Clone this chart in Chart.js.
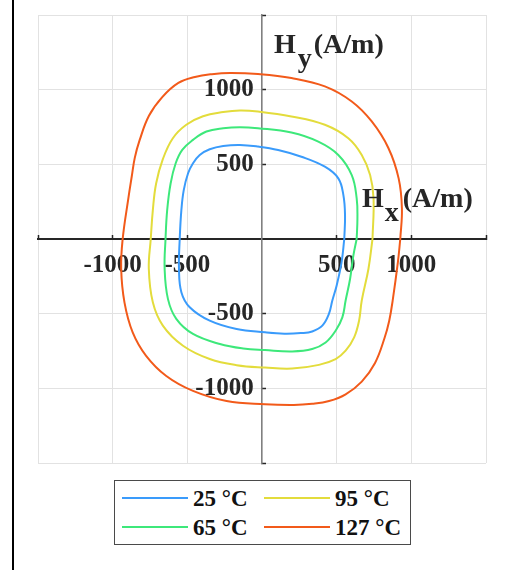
<!DOCTYPE html>
<html><head><meta charset="utf-8">
<script src="https://cdn.jsdelivr.net/npm/chart.js@4/dist/chart.umd.min.js"></script>
<style>
html,body{margin:0;padding:0;background:#fff;}
#wrap{position:relative;width:509px;height:570px;overflow:hidden;}
#frame{position:absolute;left:12px;top:0;width:2px;height:570px;background:#000;}
.ttl{position:absolute;font:bold 28px 'Liberation Serif',serif;line-height:28px;color:#262626;white-space:nowrap;}
.sub{position:relative;top:14px;}
#legend{position:absolute;left:114px;top:480px;width:297px;height:65px;border:1px solid #4a4a4a;box-sizing:border-box;background:#fff;}
.li{position:absolute;font:bold 23px 'Liberation Serif',serif;color:#111;white-space:nowrap;line-height:23px;}
.ls{position:absolute;height:2px;width:66px;}
</style></head>
<body><div id="wrap"><canvas id="c"></canvas>
<div id="frame"></div>
<div class="ttl" style="left:274px;top:30px;">H<span class="sub" style="margin-left:2px">y</span><span style="margin-left:2px">(A/m)</span></div>
<div class="ttl" style="left:362px;top:184px;">H<span class="sub" style="margin-left:1px">x</span><span style="margin-left:4px">(A/m)</span></div>
<div id="legend"></div>
</div>
<script>
// ---- data ----
const seriesLabels = ['25 °C', '65 °C', '95 °C', '127 °C'];
const hx25 = [551, 556, 545, 511, 421, 264, 108, -27, -148, -260, -350, -417, -462, -495, -524, -540, -551, -556, -540, -484, -350, -170, 20, 150, 260, 336, 404, 448, 471, 500, 533, 551];
const hy25 = [0, 159, 294, 406, 484, 551, 596, 619, 630, 623, 601, 563, 507, 440, 327, 193, 0, -199, -356, -457, -547, -603, -625, -634, -630, -619, -580, -502, -412, -311, -155, 0];
const hx65 = [634, 639, 634, 601, 511, 377, 197, -27, -148, -260, -372, -462, -534, -578, -612, -635, -646, -652, -630, -574, -462, -282, -126, 20, 202, 336, 426, 493, 538, 560, 590, 612, 634];
const hy65 = [0, 137, 272, 428, 563, 652, 713, 742, 749, 742, 720, 664, 597, 507, 372, 193, 0, -199, -401, -535, -636, -703, -733, -744, -753, -737, -693, -614, -525, -412, -266, -110, 0];
const hx95 = [740, 747, 724, 668, 578, 421, 197, -27, -148, -260, -395, -507, -597, -664, -709, -731, -745, -758, -731, -664, -529, -350, -170, 20, 202, 381, 493, 560, 617, 650, 668, 713, 740];
const hy95 = [0, 272, 428, 563, 675, 765, 821, 854, 861, 850, 822, 765, 675, 535, 372, 193, 0, -199, -424, -580, -715, -804, -845, -861, -868, -843, -804, -748, -659, -547, -412, -199, 0];
const hx127 = [926, 937, 915, 847, 735, 601, 421, 197, -27, -213, -336, -449, -560, -668, -757, -820, -852, -872, -895, -933, -943, -921, -866, -776, -641, -462, -237, 20, 213, 336, 449, 560, 668, 757, 820, 852, 875, 910, 926];
const hy127 = [0, 204, 406, 608, 787, 921, 1022, 1078, 1105, 1112, 1104, 1085, 1045, 950, 825, 660, 543, 420, 272, 0, -199, -424, -625, -782, -917, -1017, -1085, -1107, -1112, -1104, -1085, -1040, -955, -830, -665, -547, -412, -155, 0];
const xTickLabels = [-1000, -500, 500, 1000];
const yTickLabels = [-1000, -500, 500, 1000];
const axisMin = -1500, axisMax = 1500, axisStep = 500;

// ---- styles ----
const colors = ['#3a9bfb', '#3de87a', '#e3dc3c', '#f25a1a'];
const xs = [hx25, hx65, hx95, hx127];
const ys = [hy25, hy65, hy95, hy127];

const datasets = seriesLabels.map((lab, i) => ({
  label: lab,
  data: xs[i].map((x, k) => ({x: x, y: ys[i][k]})),
  borderColor: colors[i],
  backgroundColor: colors[i],
  showLine: true,
  borderWidth: 2,
  pointRadius: 0,
  tension: 0.4,
  fill: false
}));

const tickFont = {family: "'Liberation Serif','Times New Roman',serif", size: 25, weight: 'bold'};
const tickCol = c => (c.tick && c.tick.value === 0) ? 'rgba(0,0,0,0)' : '#262626';
const zeroFit = (s, horiz) => {
  if (horiz) s.height = 0; else s.width = 0;
  s.paddingTop = 0; s.paddingBottom = 0; s.paddingLeft = 0; s.paddingRight = 0;
};

new Chart(document.getElementById('c'), {
  type: 'scatter',
  data: {datasets},
  options: {
    responsive: true, maintainAspectRatio: false, animation: false,
    layout: {padding: {left: 38, right: 23, top: 15, bottom: 107}},
    plugins: {legend: {display: false}, tooltip: {enabled: false}},
    scales: {
      x: {
        type: 'linear', min: axisMin, max: axisMax, position: {y: 0},
        afterFit(s) { zeroFit(s, true); },
        ticks: {stepSize: axisStep, autoSkip: false, maxRotation: 0, padding: 17, color: '#262626', font: tickFont,
          callback: v => xTickLabels.includes(v) ? String(v) : ''},
        grid: {color: '#e2e2e2', lineWidth: 1, tickLength: -5, tickWidth: 1.5, tickColor: tickCol},
        border: {color: '#262626', width: 2}
      },
      y: {
        type: 'linear', min: axisMin, max: axisMax, position: {x: 0},
        afterFit(s) { zeroFit(s, false); },
        ticks: {stepSize: axisStep, autoSkip: false, padding: 10, color: '#262626', font: tickFont,
          callback: v => yTickLabels.includes(v) ? String(v) + '\u2004' : ''},
        grid: {color: '#e2e2e2', lineWidth: 1, tickLength: -5, tickWidth: 1.5, tickColor: tickCol},
        border: {color: '#808080', width: 1.5}
      }
    }
  }
});

// ---- legend (HTML, built from the series) ----
const lg = document.getElementById('legend');
const cols = [[6.5, 78], [148.5, 220]];
const rows = [17, 46];
seriesLabels.forEach((lab, i) => {
  const col = cols[Math.floor(i / 2)], row = rows[i % 2];
  const s = document.createElement('div');
  s.className = 'ls'; s.style.left = col[0] + 'px'; s.style.top = (row - 1) + 'px'; s.style.background = colors[i];
  lg.appendChild(s);
  const t = document.createElement('div');
  t.className = 'li'; t.style.left = col[1] + 'px'; t.style.top = (row - 11.5) + 'px'; t.textContent = lab;
  lg.appendChild(t);
});
</script>
</body></html>
